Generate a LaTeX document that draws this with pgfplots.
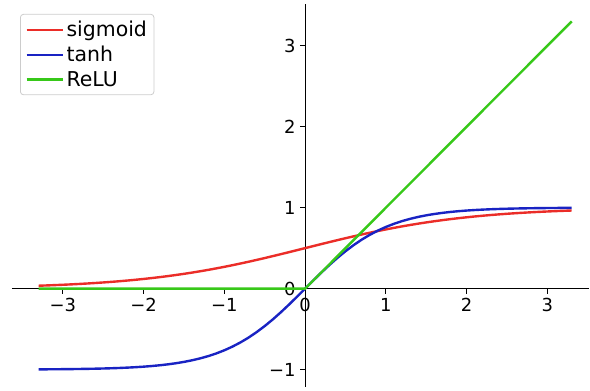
\documentclass[border=0pt]{standalone}
\usepackage{pgfplots}
\pgfplotsset{compat=1.18}
\usepackage{fontspec}
\setmainfont{DejaVu Sans}
\definecolor{cred}{RGB}{235,45,40}
\definecolor{cblue}{RGB}{25,35,195}
\definecolor{cgreen}{RGB}{55,200,25}
\begin{document}
\begin{tikzpicture}
\begin{axis}[
  scale only axis,
  width=579pt, height=384pt,
  xmin=-3.63, xmax=3.52,
  ymin=-1.215, ymax=3.515,
  axis lines=middle,
  axis line style={line width=1.1pt, -},
  hide obscured x ticks=false,
  hide obscured y ticks=false,
  xtick={-3,-2,-1,0,1,2,3},
  xticklabels={−3,−2,−1,0,1,2,3},
  ytick={-1,0,1,2,3},
  yticklabels={−1,0,1,2,3},
  tick style={line width=1pt, black},
  tick align=outside,
  major tick length=5pt,
  font=\fontsize{18}{21}\selectfont,
  xticklabel style={yshift=-1pt},
  yticklabel style={xshift=-1pt},
  legend style={at={(axis description cs:0.014,0.974)}, anchor=north west,
    draw=black!20, rounded corners=3pt, fill=white, line width=0.8pt,
    font=\fontsize{20.5}{23}\selectfont, row sep=4pt,
    inner xsep=5pt, inner ysep=5pt},
  legend cell align=left,
  legend image code/.code={\draw[#1, line width=2.2pt] (0cm,0cm) -- (37pt,0cm);},
  clip=false,
]
\addplot[cred, line width=2.4pt] coordinates {
(-3.3,0.035572)(-3.2,0.039166)(-3.1,0.043107)(-3.0,0.047426)(-2.9,0.052154)(-2.8,0.057324)
(-2.7,0.062973)(-2.6,0.069138)(-2.5,0.075858)(-2.4,0.083173)(-2.3,0.091123)(-2.2,0.099750)
(-2.1,0.109097)(-2.0,0.119203)(-1.9,0.130108)(-1.8,0.141851)(-1.7,0.154465)(-1.6,0.167982)
(-1.5,0.182426)(-1.4,0.197816)(-1.3,0.214165)(-1.2,0.231475)(-1.1,0.249740)(-1.0,0.268941)
(-0.9,0.289050)(-0.8,0.310026)(-0.7,0.331812)(-0.6,0.354344)(-0.5,0.377541)(-0.4,0.401312)
(-0.3,0.425557)(-0.2,0.450166)(-0.1,0.475021)(0.0,0.5)
(0.1,0.524979)(0.2,0.549834)(0.3,0.574443)(0.4,0.598688)(0.5,0.622459)(0.6,0.645656)
(0.7,0.668188)(0.8,0.689974)(0.9,0.710950)(1.0,0.731059)(1.1,0.750260)(1.2,0.768525)
(1.3,0.785835)(1.4,0.802184)(1.5,0.817574)(1.6,0.832018)(1.7,0.845535)(1.8,0.858149)
(1.9,0.869892)(2.0,0.880797)(2.1,0.890903)(2.2,0.900250)(2.3,0.908877)(2.4,0.916827)
(2.5,0.924142)(2.6,0.930862)(2.7,0.937027)(2.8,0.942676)(2.9,0.947846)(3.0,0.952574)
(3.1,0.956893)(3.2,0.960834)(3.3,0.964428)
};
\addlegendentry{sigmoid}
\addplot[cblue, line width=2.4pt] coordinates {
(-3.3,-0.997283)(-3.2,-0.996682)(-3.1,-0.995949)(-3.0,-0.995055)(-2.9,-0.993963)(-2.8,-0.992632)
(-2.7,-0.991007)(-2.6,-0.989027)(-2.5,-0.986614)(-2.4,-0.983675)(-2.3,-0.980096)(-2.2,-0.975743)
(-2.1,-0.970452)(-2.0,-0.964028)(-1.9,-0.956237)(-1.8,-0.946806)(-1.7,-0.935409)(-1.6,-0.921669)
(-1.5,-0.905148)(-1.4,-0.885352)(-1.3,-0.861723)(-1.2,-0.833655)(-1.1,-0.800499)(-1.0,-0.761594)
(-0.9,-0.716298)(-0.8,-0.664037)(-0.7,-0.604368)(-0.6,-0.537050)(-0.5,-0.462117)(-0.4,-0.379949)
(-0.3,-0.291313)(-0.2,-0.197375)(-0.1,-0.099668)(0.0,0.0)
(0.1,0.099668)(0.2,0.197375)(0.3,0.291313)(0.4,0.379949)(0.5,0.462117)(0.6,0.537050)
(0.7,0.604368)(0.8,0.664037)(0.9,0.716298)(1.0,0.761594)(1.1,0.800499)(1.2,0.833655)
(1.3,0.861723)(1.4,0.885352)(1.5,0.905148)(1.6,0.921669)(1.7,0.935409)(1.8,0.946806)
(1.9,0.956237)(2.0,0.964028)(2.1,0.970452)(2.2,0.975743)(2.3,0.980096)(2.4,0.983675)
(2.5,0.986614)(2.6,0.989027)(2.7,0.991007)(2.8,0.992632)(2.9,0.993963)(3.0,0.995055)
(3.1,0.995949)(3.2,0.996682)(3.3,0.997283)
};
\addlegendentry{tanh}
\addplot[cgreen, line width=2.4pt] coordinates {(-3.3,0)(0,0)(3.3,3.3)};
\addlegendentry{ReLU}
\end{axis}
\path (current axis.south west) ++(-12pt,-4pt) (current axis.north east) ++(0,4pt);
\end{tikzpicture}
\end{document}
